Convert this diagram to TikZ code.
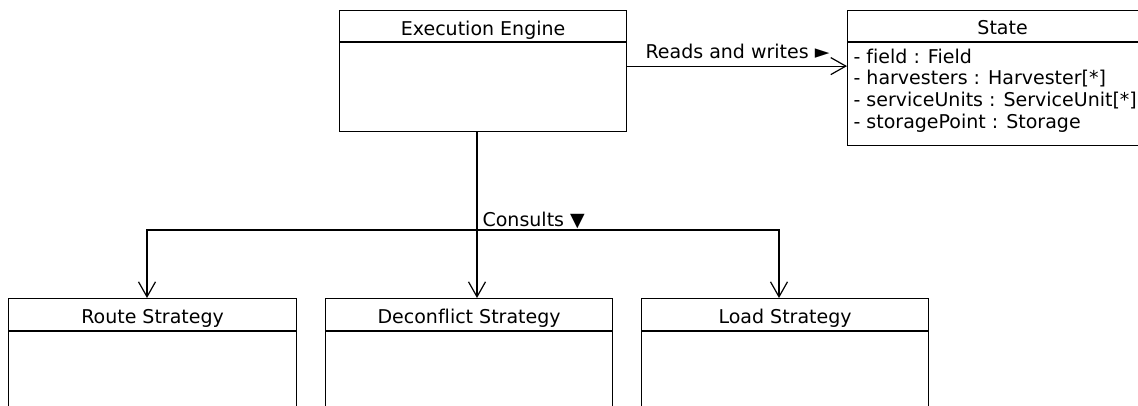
\documentclass[tikz,border=0pt]{standalone}
\usepackage{fontspec}
\setmainfont[Ligatures=NoCommon]{DejaVu Sans}
\usetikzlibrary{arrows.meta}
\begin{document}
\begin{tikzpicture}[x=1pt,y=-1pt, line width=1.2pt,
  classbox/.style={draw, rectangle, inner sep=0pt, anchor=north west},
  txt/.style={font=\fontsize{19}{21.8}\selectfont, inner sep=0pt},
  title/.style={txt, anchor=base},
  attr/.style={txt, align=left, anchor=base west},
  lbl/.style={txt, anchor=base west},
  barb/.tip={Straight Barb[length=15pt,width=17pt,line width=1.2pt]},
  openarrow/.style={-barb}]
\useasboundingbox (0,0) rectangle (1138,405);
\clip (0,0) rectangle (1138,405);

% Execution Engine
\node[classbox, minimum width=287pt, minimum height=121pt] (ee) at (339,10) {};
\draw ([yshift=-32pt]ee.north west) -- ([yshift=-32pt]ee.north east);
\node[title] (eet) at ([yshift=-25pt]ee.north) {Execution Engine};

% State
\node[classbox, minimum width=310pt, minimum height=135pt] (st) at (847,10) {};
\draw ([yshift=-32pt]st.north west) -- ([yshift=-32pt]st.north east);
\node[title] (stt) at ([yshift=-24.5pt]st.north) {State};
\node[attr] (sta) at ([xshift=6pt,yshift=-118.5pt]st.north west)
  {- field : Field\\- harvesters : Harvester[*]\\- serviceUnits : ServiceUnit[*]\\- storagePoint : Storage};

% Strategies
\node[classbox, minimum width=288pt, minimum height=150pt] (rs) at (8,298) {};
\draw ([yshift=-33pt]rs.north west) -- ([yshift=-33pt]rs.north east);
\node[title] (rst) at ([yshift=-25pt]rs.north) {Route Strategy};

\node[classbox, minimum width=287pt, minimum height=150pt] (ds) at (325,298) {};
\draw ([yshift=-33pt]ds.north west) -- ([yshift=-33pt]ds.north east);
\node[title] (dst) at ([yshift=-25pt]ds.north) {Deconflict Strategy};

\node[classbox, minimum width=287pt, minimum height=150pt] (ls) at (641,298) {};
\draw ([yshift=-33pt]ls.north west) -- ([yshift=-33pt]ls.north east);
\node[title] (lst) at ([yshift=-25pt]ls.north) {Load Strategy};

% Reads and writes
\draw[openarrow] ([yshift=5pt]ee.east) -- ([yshift=5pt]ee.east -| st.west);
\node[lbl] (rw) at (645,58.5) {Reads and writes ►};

% Consults
\coordinate (jm) at (477,230);
\coordinate (jl) at (147,230);
\coordinate (jr) at (779,230);
\draw[openarrow] (ee.south -| jm) -- (jm |- ds.north);
\draw[barb-barb] (jr |- ls.north) -- (jr) -- (jl) -- (jl |- rs.north);
\node[lbl] (cl) at (482,226.5) {Consults ▼};
\end{tikzpicture}
\end{document}
